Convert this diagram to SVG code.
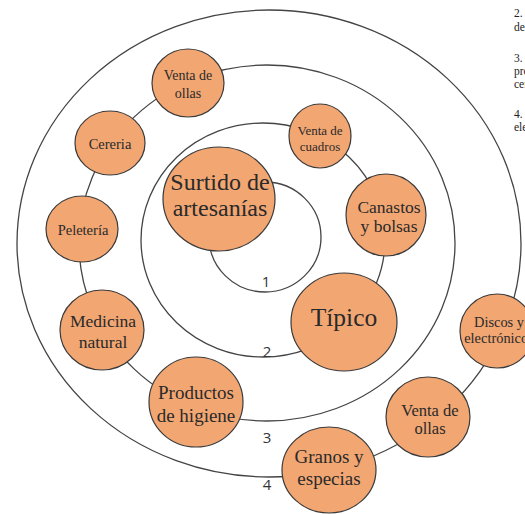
<svg xmlns="http://www.w3.org/2000/svg" width="525" height="514" viewBox="0 0 525 514">
<style>
.ring{fill:none;stroke:#444;stroke-width:1.3}
.node{fill:#F2A672;stroke:#3a3a3a;stroke-width:1.2}
.t{font-family:"Liberation Serif","Times New Roman",serif;fill:#2a2a2a;text-anchor:middle}
.num{font-family:"Open Sans","Liberation Sans",sans-serif;font-size:15px;fill:#333;text-anchor:middle}
.leg{font-family:"Liberation Serif","Times New Roman",serif;font-size:11.5px;fill:#222}
</style>
<rect width="525" height="514" fill="#fff"/>
<g id="connectors">
<ellipse class="ring" cx="269" cy="243.5" rx="252" ry="233.5"/>
<ellipse class="ring" cx="267" cy="243" rx="188" ry="178"/>
<ellipse class="ring" cx="263" cy="240" rx="122" ry="117"/>
<ellipse class="ring" cx="265" cy="237" rx="56" ry="55"/>
</g>
<g id="labels">
<text class="num" x="266" y="287">1</text>
<text class="num" x="267" y="357">2</text>
<text class="num" x="267" y="443">3</text>
<text class="num" x="267" y="490">4</text>
</g>
<g id="legend">
<text class="leg" x="514" y="17">2.</text>
<text class="leg" x="514" y="31">de</text>
<text class="leg" x="514" y="62">3.</text>
<text class="leg" x="514" y="75">pro</text>
<text class="leg" x="514" y="88">cen</text>
<text class="leg" x="514" y="118">4.</text>
<text class="leg" x="514" y="131">ele</text>
</g>
<g id="venta-ollas-1">
<ellipse class="node" cx="188" cy="83" rx="36" ry="34"/>
<text class="t" x="188" y="80" font-size="14">Venta de</text>
<text class="t" x="188" y="98" font-size="14">ollas</text>
</g>
<g id="cereria">
<ellipse class="node" cx="110" cy="143" rx="35" ry="32"/>
<text class="t" x="110" y="149" font-size="14.5">Cereria</text>
</g>
<g id="peleteria">
<ellipse class="node" cx="82" cy="229" rx="36" ry="33"/>
<text class="t" x="83" y="235" font-size="14.5">Peletería</text>
</g>
<g id="surtido">
<ellipse class="node" cx="219" cy="199" rx="56" ry="52"/>
<text class="t" x="220" y="190" font-size="24">Surtido de</text>
<text class="t" x="220" y="216" font-size="24">artesanías</text>
</g>
<g id="venta-cuadros">
<ellipse class="node" cx="320" cy="136" rx="31" ry="32"/>
<text class="t" x="320" y="135" font-size="13">Venta de</text>
<text class="t" x="320" y="151" font-size="13">cuadros</text>
</g>
<g id="canastos">
<ellipse class="node" cx="386" cy="215" rx="40" ry="41"/>
<text class="t" x="389" y="213" font-size="17.5">Canastos</text>
<text class="t" x="389" y="232" font-size="17.5">y bolsas</text>
</g>
<g id="tipico">
<ellipse class="node" cx="344" cy="322" rx="53" ry="49"/>
<text class="t" x="344" y="326" font-size="25.5">Típico</text>
</g>
<g id="medicina">
<ellipse class="node" cx="102" cy="330" rx="42" ry="40"/>
<text class="t" x="103" y="327" font-size="17.5">Medicina</text>
<text class="t" x="103" y="348" font-size="17.5">natural</text>
</g>
<g id="productos">
<ellipse class="node" cx="196" cy="402" rx="47" ry="45"/>
<text class="t" x="196" y="399" font-size="19">Productos</text>
<text class="t" x="196" y="422" font-size="19">de higiene</text>
</g>
<g id="discos">
<ellipse class="node" cx="497" cy="331" rx="37" ry="37"/>
<text class="t" x="499" y="327" font-size="14.4">Discos y</text>
<text class="t" x="499" y="343" font-size="14.4">electrónicos</text>
</g>
<g id="venta-ollas-2">
<ellipse class="node" cx="428" cy="417" rx="42" ry="40"/>
<text class="t" x="430" y="416" font-size="16.5">Venta de</text>
<text class="t" x="430" y="434" font-size="16.5">ollas</text>
</g>
<g id="granos">
<ellipse class="node" cx="329" cy="470" rx="47" ry="43"/>
<text class="t" x="329" y="463" font-size="19">Granos y</text>
<text class="t" x="329" y="485" font-size="19">especias</text>
</g>
</svg>
